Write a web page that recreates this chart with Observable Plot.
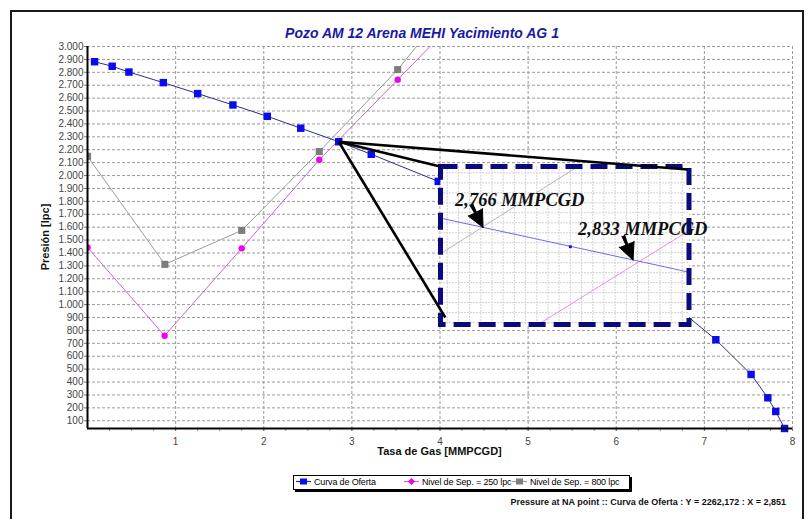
<!DOCTYPE html>
<html>
<head>
<meta charset="utf-8">
<script src="https://cdn.jsdelivr.net/npm/d3@7"></script>
<script src="https://cdn.jsdelivr.net/npm/@observablehq/plot@0.6"></script>
<style>
  body { margin: 0; background: #fff; font-family: "Liberation Sans", Arial, sans-serif; }
  #wrap { position: relative; width: 809px; height: 519px; overflow: hidden; background: #fff; }
  #outer { position: absolute; left: 10px; top: 10px; width: 794px; height: 540px; border: 2px solid #1a1a1a; box-sizing: border-box; }
  #title { position: absolute; left: 222px; width: 400px; top: 25px; text-align: center; font: bold italic 14px "Liberation Sans", Arial, sans-serif; color: #1a1aa6; }
  .abs { position: absolute; }
  #ylabel { left: 45px; top: 237px; transform: translate(-50%, -50%) rotate(-90deg); font: bold 11px "Liberation Sans", Arial, sans-serif; color: #111; white-space: nowrap; }
  #xlabel { left: 87px; width: 705px; top: 445px; text-align: center; font: bold 11px "Liberation Sans", Arial, sans-serif; color: #111; }
  #legend { left: 293px; top: 475px; width: 337px; height: 15px; border: 1px solid #000; box-sizing: border-box; box-shadow: 2px 2px 0 #000; background: #fff; font: 9px "Liberation Sans", Arial, sans-serif; color: #000; letter-spacing: -0.15px; }
  .item { position: absolute; top: 0px; line-height: 13px; white-space: nowrap; }
  .item svg { vertical-align: -1px; margin-right: 3px; }
  #footer { right: 23px; top: 497px; font: bold 9px "Liberation Sans", Arial, sans-serif; color: #111; white-space: nowrap; }
</style>
</head>
<body>
<div id="wrap">
  <div id="outer"></div>
  <div id="title">Pozo AM 12 Arena MEHI Yacimiento AG 1</div>
  <div id="ylabel" class="abs">Presión [lpc]</div>
  <div id="xlabel" class="abs">Tasa de Gas [MMPCGD]</div>
  <div id="legend" class="abs"></div>
  <div id="footer" class="abs">Pressure at NA point :: Curva de Oferta : Y = 2262,172 : X = 2,851</div>
</div>
<script>
// ---------------- data ----------------
const ofertaX = [0.08, 0.28, 0.47, 0.86, 1.25, 1.65, 2.04, 2.42, 2.851, 3.22, 3.98, 4.76, 5.54, 6.33, 6.72, 7.13, 7.53, 7.72, 7.81, 7.91];
const ofertaY = [2882, 2847, 2802, 2720, 2635, 2547, 2459, 2367, 2262, 2165, 1955, 1735, 1470, 1130, 960, 728, 459, 278, 172, 40];
const sep250X = [0, 0.875, 1.75, 2.63, 3.52, 4.4];
const sep250Y = [1443, 759, 1436, 2122, 2743, 3360];
const sep800X = [0, 0.878, 1.75, 2.63, 3.52, 4.4];
const sep800Y = [2149, 1312, 1575, 2186, 2821, 3560];
const seriesNames = ["Curva de Oferta", "Nivel de Sep. = 250 lpc", "Nivel de Sep. = 800 lpc"];
const xTickValues = [1, 2, 3, 4, 5, 6, 7, 8];
const xMinorTicks = d3.range(0.25, 8.0001, 0.25);
const yTickValues = d3.range(100, 3001, 100);
const xDomain = [0, 8];
const yDomain = [40, 3000];
// zoom inset (placed over the chart, in chart units) and its own zoomed window
const insetBoxX = [4.0, 6.82];
const insetBoxY = [846, 2071];
const insetXDomain = [2.747, 2.858];
const insetYDomain = [2234, 2313.2];
const naPointX = [2.851];
const naPointY = [2262];
const calloutEndX = [4.0, 6.81, 4.06];
const calloutEndY = [2071, 2047, 900];
const crossX = [2.766, 2.833];
const crossY = [2282.7, 2266.4];
const crossLabels = ["2,766 MMPCGD", "2,833 MMPCGD"];
const insetDotX = [2.805];
const insetDotY = [2273];

// ---------------- styles ----------------
const col = {
  ofertaLine: "#2d2d8a", ofertaDot: "#0b0bf0",
  p250Line: "#cc66cc", p250Dot: "#f000f0",
  p800Line: "#9a9a9a", p800Dot: "#7d7d7d"
};
const toPts = (xs, ys) => xs.map((x, i) => ({x, y: ys[i]}));
const oferta = toPts(ofertaX, ofertaY);
const sep250 = toPts(sep250X, sep250Y);
const sep800 = toPts(sep800X, sep800Y);
const fmt = d3.formatLocale({decimal: ",", thousands: ".", grouping: [3], currency: ["", ""]}).format(",d");

const common = {
  width: 809, height: 470,
  marginLeft: 87, marginRight: 17, marginTop: 46, marginBottom: 42,
  x: {domain: xDomain}, y: {domain: yDomain}
};

const main = Plot.plot({
  ...common,
  style: {fontFamily: "'Liberation Sans', Arial, sans-serif", fontSize: "10px", color: "#444", background: "transparent"},
  marks: [
    Plot.gridY(yTickValues, {stroke: "#9a9a9a", strokeOpacity: 1, strokeDasharray: "3,2"}),
    Plot.gridX(xTickValues, {stroke: "#9a9a9a", strokeOpacity: 1, strokeDasharray: "3,2"}),
    Plot.axisY(yTickValues, {tickSize: 3, tickPadding: 1, tickFormat: fmt, label: null, stroke: "#777"}),
    Plot.axisX(xMinorTicks, {tickSize: 3, tickFormat: () => "", label: null, stroke: "#999"}),
    Plot.axisX(xTickValues, {tickSize: 3, tickPadding: 6, label: null, stroke: "#777"}),
    Plot.line(sep800, {x: "x", y: "y", stroke: col.p800Line, strokeWidth: 1, clip: true}),
    Plot.line(sep250, {x: "x", y: "y", stroke: col.p250Line, strokeWidth: 1, clip: true}),
    Plot.line(oferta, {x: "x", y: "y", stroke: col.ofertaLine, strokeWidth: 1}),
    Plot.dot(sep800, {x: "x", y: "y", symbol: "square", r: 4, fill: col.p800Dot, clip: true}),
    Plot.dot(sep250, {x: "x", y: "y", symbol: "circle", r: 3.2, fill: col.p250Dot, clip: true}),
    Plot.dot(oferta, {x: "x", y: "y", symbol: "square", r: 4.2, fill: col.ofertaDot}),
    Plot.ruleX([xDomain[0]], {stroke: "#000", strokeWidth: 2}),
    Plot.ruleY([yDomain[0]], {stroke: "#000", strokeWidth: 2})
  ]
});
main.style.position = "absolute";
main.style.left = "0px";
main.style.top = "0px";
document.getElementById("wrap").appendChild(main);

// ---------------- inset ----------------
const sx = main.scale("x"), sy = main.scale("y");
const px1 = sx.apply(insetBoxX[0]), px2 = sx.apply(insetBoxX[1]);
const py1 = sy.apply(insetBoxY[1]), py2 = sy.apply(insetBoxY[0]);
const m = {l: 6, r: 30, t: 6, b: 6};
const crosses = crossX.map((x, i) => ({x, y: crossY[i], label: crossLabels[i]}));
const labelDx = [-28, -55], labelDy = [-27, -31], arrowRot = [153, 158];
const inset = Plot.plot({
  width: (px2 - px1) + m.l + m.r, height: (py2 - py1) + m.t + m.b,
  marginLeft: m.l, marginRight: m.r, marginTop: m.t, marginBottom: m.b,
  x: {domain: insetXDomain, axis: null}, y: {domain: insetYDomain, axis: null},
  style: {background: "transparent", overflow: "visible"},
  marks: [
    Plot.frame({fill: "white", stroke: "none"}),
    Plot.gridX({ticks: 24, stroke: "#d2d2d2", strokeOpacity: 1, strokeDasharray: "2,1"}),
    Plot.gridY({ticks: 16, stroke: "#d2d2d2", strokeOpacity: 1, strokeDasharray: "2,1"}),
    Plot.line(sep800, {x: "x", y: "y", stroke: "#b4b4b4", strokeWidth: 1, clip: true}),
    Plot.line(sep250, {x: "x", y: "y", stroke: "#f088f0", strokeWidth: 1, clip: true}),
    Plot.line(oferta, {x: "x", y: "y", stroke: "#6a6af2", strokeWidth: 1, clip: true}),
    Plot.dot(toPts(insetDotX, insetDotY), {x: "x", y: "y", symbol: "square", r: 1.6, fill: "#0b0bf0"}),
    Plot.frame({stroke: "#0a0a7e", strokeWidth: 5, strokeDasharray: "17,8"}),
    ...crosses.map((d, i) => Plot.vector([d], {x: "x", y: "y", anchor: "end", length: 26, rotate: arrowRot[i], shape: "spike", r: 1.5, fill: "black", stroke: "black", strokeWidth: 1})),
    ...crosses.map((d, i) => Plot.vector([d], {x: "x", y: "y", anchor: "end", length: 17, rotate: arrowRot[i], shape: "spike", r: 8, fill: "black", stroke: "black", strokeWidth: 1})),
    ...crosses.map((d, i) => Plot.text([d], {x: "x", y: "y", text: "label", dx: labelDx[i], dy: labelDy[i], textAnchor: "start", fontFamily: "'Liberation Serif', 'Times New Roman', serif", fontWeight: "bold", fontStyle: "italic", fontSize: 18.5, fill: "#111"}))
  ]
});
inset.style.position = "absolute";
inset.style.left = (px1 - m.l) + "px";
inset.style.top = (py1 - m.t) + "px";
document.getElementById("wrap").appendChild(inset);

// ---------------- callout lines (on top) ----------------
const callouts = calloutEndX.map((x, i) => ({x1: naPointX[0], y1: naPointY[0], x2: x, y2: calloutEndY[i]}));
const over = Plot.plot({
  ...common,
  x: {domain: xDomain, axis: null}, y: {domain: yDomain, axis: null},
  style: {background: "transparent"},
  marks: [
    Plot.link(callouts, {x1: "x1", y1: "y1", x2: "x2", y2: "y2", stroke: "#000", strokeWidth: 2.6})
  ]
});
over.style.position = "absolute";
over.style.left = "0px";
over.style.top = "0px";
document.getElementById("wrap").appendChild(over);

// ---------------- legend ----------------
const legendItems = [
  {name: seriesNames[0], left: 2, line: col.ofertaLine, fill: col.ofertaDot, shape: "square"},
  {name: seriesNames[1], left: 110, line: col.p250Line, fill: col.p250Dot, shape: "diamond"},
  {name: seriesNames[2], left: 218, line: col.p800Line, fill: col.p800Dot, shape: "square"}
];
const legend = document.getElementById("legend");
legendItems.forEach(it => {
  const span = document.createElement("span");
  span.className = "item";
  span.style.left = it.left + "px";
  const mk = it.shape === "square"
    ? `<rect x="4" y="1.5" width="7" height="6" fill="${it.fill}"/>`
    : `<path d="M7.5 1 L11 4.5 L7.5 8 L4 4.5 Z" fill="${it.fill}"/>`;
  span.innerHTML = `<svg width="15" height="9"><line x1="0" y1="4.5" x2="15" y2="4.5" stroke="${it.line}" stroke-width="1.2"/>${mk}</svg>${it.name}`;
  legend.appendChild(span);
});
</script>
</body>
</html>
